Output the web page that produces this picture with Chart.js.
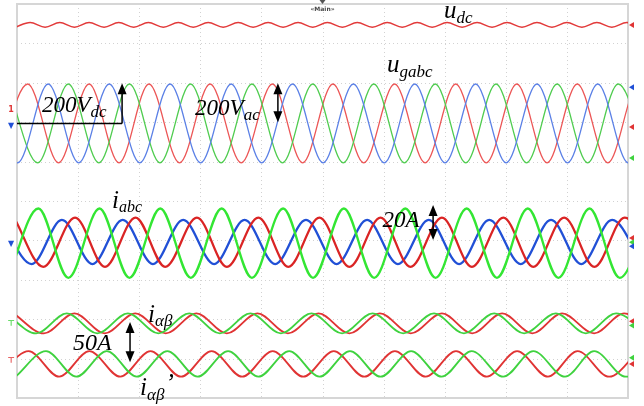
<!DOCTYPE html>
<html><head><meta charset="utf-8">
<script src="https://cdn.jsdelivr.net/npm/chart.js@4.4.1/dist/chart.umd.min.js"></script>
<style>html,body{margin:0;padding:0;background:#fff;}canvas{display:block;}</style>
</head><body>
<canvas id="c" width="644" height="406"></canvas>
<script>
// Time axis in ms (20 ms per division), vertical axis in screen divisions.
const timeTicks = [0, 20, 40, 60, 80, 100, 120, 140, 160, 180, 200];
const levelTicks = [-5, -4, -3, -2, -1, 0, 1, 2, 3, 4, 5];

// u_dc (ripple maxima / minima times, levels [max, min])
const udcMaxT = [4.3, 14.0, 23.6, 33.3, 43.0, 52.8, 62.6, 72.4, 82.2, 92.0, 101.6, 111.4, 121.2, 131.0, 140.8, 150.6, 160.4, 170.2, 180.0, 189.8, 199.6, 209.4];
const udcMinT = [-0.6, 9.2, 18.8, 28.5, 38.2, 47.9, 57.7, 67.5, 77.3, 87.1, 96.8, 106.5, 116.3, 126.1, 135.9, 145.7, 155.5, 165.3, 175.1, 184.9, 194.7, 204.5];
const udcLevels = [4.53, 4.41];

// u_gabc
const ugaPeakT = [3.5, 23.6, 43.2, 63.2, 83.6, 103.4, 123.6, 143.6, 163.6, 183.4, 203.4];
const ugaTroughT = [-6.5, 13.6, 33.4, 53.2, 73.4, 93.5, 113.5, 133.6, 153.6, 173.5, 193.4, 213.4];
const ugbPeakT = [-9.8, 10.2, 30.2, 50.1, 70.1, 90.2, 110.1, 130.2, 150.1, 170.2, 190.1, 210.1];
const ugbTroughT = [0.2, 20.2, 40.2, 60.1, 80.1, 100.2, 120.2, 140.1, 160.1, 180.2, 200.1];
const ugcPeakT = [-3.2, 16.8, 36.8, 56.8, 76.9, 96.8, 116.8, 136.9, 156.8, 176.8, 196.8];
const ugcTroughT = [6.8, 26.8, 46.8, 66.8, 86.9, 106.8, 126.8, 146.9, 166.8, 186.8, 206.8];
const ugLevels = [2.97, 0.97];

// i_abc
const iaPeakT = [-1.0, 19.0, 38.8, 58.9, 79.0, 99.0, 119.0, 139.1, 159.2, 179.1, 198.9];
const iaTroughT = [8.6, 28.8, 48.5, 68.7, 88.8, 108.8, 128.8, 148.9, 169.0, 189.0, 209.0];
const iaLevels = [-0.42, -1.67];
const ibPeakT = [-5.3, 14.7, 34.6, 54.4, 74.5, 94.6, 114.6, 134.8, 154.6, 174.8, 194.8];
const ibTroughT = [4.8, 24.7, 44.5, 64.5, 84.5, 104.6, 124.7, 144.7, 164.9, 184.7, 204.8];
const ibLevels = [-0.48, -1.60];
const icPeakT = [7.0, 27.0, 46.9, 67.0, 87.1, 107.0, 127.1, 147.2, 167.2, 187.4, 207.4];
const icTroughT = [-3.0, 16.8, 36.8, 56.9, 76.9, 96.9, 116.9, 137.0, 157.1, 177.2, 197.3];
const icLevels = [-0.19, -1.95];

// i_alpha_beta (upper pair)
const iabGPeakT = [-3.7, 16.3, 36.3, 56.4, 76.4, 96.4, 116.4, 136.5, 156.2, 176.4, 196.1];
const iabGTroughT = [6.3, 26.3, 46.3, 66.4, 86.4, 106.4, 126.4, 146.3, 166.0, 186.2, 206.1];
const iabRPeakT = [-1.2, 18.8, 38.7, 58.7, 78.7, 98.7, 118.8, 139.1, 158.8, 178.4, 198.7];
const iabRTroughT = [8.8, 28.7, 48.7, 68.7, 88.7, 108.8, 128.9, 149.0, 168.7, 188.9, 208.7];
const iabLevels = [-2.85, -3.36];

// i_alpha_beta' (lower pair)
const iab2RPeakT = [3.8, 23.7, 43.7, 63.7, 83.7, 103.7, 123.7, 143.7, 163.7, 183.5, 203.5];
const iab2RTroughT = [-6.2, 13.8, 33.8, 53.7, 73.7, 93.7, 113.7, 133.8, 153.8, 173.8, 193.8];
const iab2GPeakT = [9.5, 29.4, 49.2, 69.1, 89.1, 109.0, 129.0, 148.8, 169.0, 188.9, 208.9];
const iab2GTroughT = [-0.5, 19.4, 39.2, 59.1, 79.0, 99.0, 119.0, 139.0, 159.2, 179.4, 199.3];
const iab2Levels = [-3.81, -4.46];

function wave(peaks, troughs, levels) {
  const pts = peaks.map(t => ({x: t, y: levels[0]})).concat(troughs.map(t => ({x: t, y: levels[1]})));
  pts.sort((a, b) => a.x - b.x);
  return pts;
}
function ds(data, color, width) {
  return {data, borderColor: color, borderWidth: width, pointRadius: 0, fill: false,
          cubicInterpolationMode: 'monotone'};
}

const datasets = [
  ds(wave(ugbPeakT, ugbTroughT, ugLevels), '#5b80e6', 1.3),
  ds(wave(ugcPeakT, ugcTroughT, ugLevels), '#4fcc4f', 1.3),
  ds(wave(ugaPeakT, ugaTroughT, ugLevels), '#ec5656', 1.3),
  ds(wave(udcMaxT, udcMinT, udcLevels), '#e23a3a', 1.6),
  ds(wave(icPeakT, icTroughT, icLevels), '#33e633', 2.3),
  ds(wave(iaPeakT, iaTroughT, iaLevels), '#da2424', 2.3),
  ds(wave(ibPeakT, ibTroughT, ibLevels), '#2150d6', 2.3),
  ds(wave(iabGPeakT, iabGTroughT, iabLevels), '#3fd23f', 1.8),
  ds(wave(iabRPeakT, iabRTroughT, iabLevels), '#e03434', 1.8),
  ds(wave(iab2GPeakT, iab2GTroughT, iab2Levels), '#3fd23f', 1.8),
  ds(wave(iab2RPeakT, iab2RTroughT, iab2Levels), '#e03434', 1.8)
];

// Annotation layout (data units)
const notes = [
  {t: 8.2, v: 2.26, main: '200V', sub: 'dc', ms: 23, ss: 17, drop: 5},
  {t: 58.3, v: 2.18, main: '200V', sub: 'ac', ms: 23, ss: 17, drop: 5},
  {t: 121.1, v: 3.27, main: 'u', sub: 'gabc', ms: 25, ss: 17, drop: 5},
  {t: 139.8, v: 4.64, main: 'u', sub: 'dc', ms: 25, ss: 17, drop: 5},
  {t: 31.1, v: -0.18, main: 'i', sub: 'abc', ms: 25, ss: 16, drop: 4},
  {t: 119.6, v: -0.66, main: '20A', ms: 23},
  {t: 42.9, v: -3.07, main: 'i', sub: 'αβ', ms: 25, ss: 17, drop: 4},
  {t: 18.3, v: -3.78, main: '50A', ms: 24},
  {t: 40.3, v: -4.92, main: 'i', sub: 'αβ', prime: true, ms: 25, ss: 17, drop: 5}
];
const arrows = [
  {t: 34.4, from: 1.97, to: 2.99, both: false},
  {t: 85.4, from: 2.0, to: 2.99, both: true},
  {t: 136.2, from: -0.99, to: -0.10, both: true},
  {t: 37.0, from: -4.09, to: -3.07, both: true}
];
const refLine = {t0: 0, t1: 34.4, v: 1.97};
const leftMarks = [
  {v: 2.31, c: '#e03434', g: '1'}, {v: 1.90, c: '#2150d6', g: '▼'},
  {v: -1.09, c: '#2150d6', g: '▼'}, {v: -3.13, c: '#3fd23f', g: '⊤'}, {v: -4.06, c: '#e03434', g: '⊤'}
];
const rightMarks = [
  {v: 4.47, c: '#e03434'}, {v: 2.89, c: '#2150d6'}, {v: 1.88, c: '#e03434'}, {v: 1.09, c: '#3fd23f'},
  {v: -0.94, c: '#e03434'}, {v: -1.05, c: '#3fd23f'}, {v: -1.15, c: '#2150d6'},
  {v: -3.05, c: '#e03434'}, {v: -3.16, c: '#3fd23f'}, {v: -3.98, c: '#3fd23f'}, {v: -4.14, c: '#e03434'}
];

const gridPlugin = {
  id: 'scopeGrid',
  beforeDatasetsDraw(chart) {
    const {ctx, chartArea: a, scales: {x, y}} = chart;
    ctx.save();
    ctx.strokeStyle = '#d2d2d2';
    ctx.lineWidth = 1;
    ctx.setLineDash([1, 3]);
    timeTicks.slice(1, -1).forEach(t => {
      const px = Math.round(x.getPixelForValue(t)) + 0.5;
      ctx.beginPath(); ctx.moveTo(px, a.top); ctx.lineTo(px, a.bottom); ctx.stroke();
    });
    levelTicks.slice(1, -1).forEach(v => {
      const py = Math.round(y.getPixelForValue(v)) + 0.5;
      ctx.beginPath(); ctx.moveTo(a.left, py); ctx.lineTo(a.right, py); ctx.stroke();
    });
    ctx.setLineDash([]);
    ctx.strokeStyle = '#d6d6d6';
    ctx.lineWidth = 2;
    ctx.strokeRect(a.left, a.top, a.right - a.left, a.bottom - a.top);
    // trigger marker at top
    const cx = x.getPixelForValue(100);
    ctx.fillStyle = '#555';
    ctx.beginPath(); ctx.moveTo(cx - 3, 0); ctx.lineTo(cx + 3, 0); ctx.lineTo(cx, 4); ctx.closePath(); ctx.fill();
    ctx.font = 'bold 6px "DejaVu Sans"';
    ctx.textAlign = 'center';
    ctx.fillStyle = '#444';
    ctx.fillText('«Main»', cx, 11);
    ctx.restore();
  }
};

function arrowHead(ctx, x, y, dir) {
  ctx.beginPath();
  ctx.moveTo(x, y);
  ctx.lineTo(x - 4.5, y - dir * 11);
  ctx.lineTo(x + 4.5, y - dir * 11);
  ctx.closePath();
  ctx.fill();
}

const notePlugin = {
  id: 'notes',
  afterDatasetsDraw(chart) {
    const {ctx, chartArea: a, scales: {x, y}} = chart;
    ctx.save();
    ctx.fillStyle = '#000';
    ctx.strokeStyle = '#000';
    ctx.textBaseline = 'alphabetic';
    ctx.textAlign = 'left';
    notes.forEach(n => {
      const px = x.getPixelForValue(n.t), py = y.getPixelForValue(n.v);
      ctx.font = `italic ${n.ms}px "Liberation Serif"`;
      ctx.fillText(n.main, px, py);
      let w = ctx.measureText(n.main).width;
      if (n.sub) {
        ctx.font = `italic ${n.ss}px "Liberation Serif"`;
        ctx.fillText(n.sub, px + w, py + n.drop);
        const w2 = ctx.measureText(n.sub).width;
        if (n.prime) {
          ctx.font = `italic ${n.ms}px "Liberation Serif"`;
          ctx.fillText('\u2019', px + w + w2 + 1, py - 4);
        }
      }
    });
    ctx.lineWidth = 1.5;
    // reference line
    ctx.beginPath();
    ctx.moveTo(x.getPixelForValue(refLine.t0), y.getPixelForValue(refLine.v));
    ctx.lineTo(x.getPixelForValue(refLine.t1), y.getPixelForValue(refLine.v));
    ctx.stroke();
    arrows.forEach(ar => {
      const px = x.getPixelForValue(ar.t);
      const p0 = y.getPixelForValue(ar.from), p1 = y.getPixelForValue(ar.to);
      ctx.beginPath(); ctx.moveTo(px, p0 + (ar.both ? -8 : 0)); ctx.lineTo(px, p1 + 8); ctx.stroke();
      arrowHead(ctx, px, p1, -1);
      if (ar.both) arrowHead(ctx, px, p0, 1);
    });
    // channel markers
    ctx.font = 'bold 8px "DejaVu Sans"';
    ctx.textAlign = 'center';
    ctx.textBaseline = 'middle';
    leftMarks.forEach(m => {
      ctx.fillStyle = m.c;
      ctx.fillText(m.g, a.left - 6, y.getPixelForValue(m.v));
    });
    rightMarks.forEach(m => {
      const py = y.getPixelForValue(m.v);
      ctx.fillStyle = m.c;
      ctx.beginPath(); ctx.moveTo(a.right + 1, py); ctx.lineTo(a.right + 6, py - 3); ctx.lineTo(a.right + 6, py + 3); ctx.closePath(); ctx.fill();
    });
    ctx.restore();
  }
};

new Chart(document.getElementById('c').getContext('2d'), {
  type: 'line',
  data: {datasets},
  options: {
    responsive: false,
    animation: false,
    devicePixelRatio: 1,
    layout: {padding: {left: 17, right: 16, top: 4, bottom: 8}},
    plugins: {legend: {display: false}, tooltip: {enabled: false}},
    scales: {
      x: {type: 'linear', min: 0, max: 200, display: false},
      y: {type: 'linear', min: -5, max: 5, display: false}
    }
  },
  plugins: [gridPlugin, notePlugin]
});
</script>
</body></html>
